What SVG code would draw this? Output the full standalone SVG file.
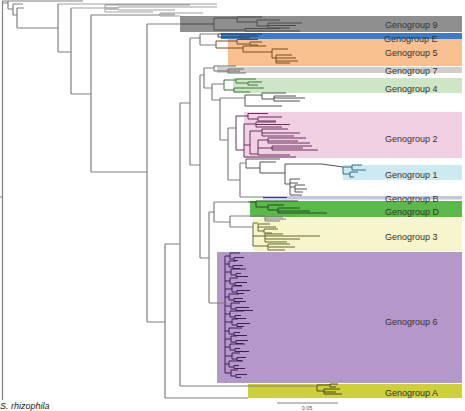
<svg xmlns="http://www.w3.org/2000/svg" width="465" height="411" viewBox="0 0 465 411">
<style>
.bb{fill:none;stroke:#808080;stroke-width:1.2}
.lg{fill:none;stroke:#a0a0a0;stroke-width:1.1}
.cl{fill:none;stroke-width:1}
.lab{font-family:"Liberation Sans",Arial,sans-serif;font-size:9px;fill:#333}
</style>
<rect width="465" height="411" fill="#fff"/>
<g id="G9"><rect x="180" y="16" width="282" height="16" fill="#8f8f8f"/>
<path class="cl" stroke="#4a4a4a" d="M181,24H214M214,18V30M214,18H237M237,17V22M237,17H262M237,22H257M257,20V26M257,20H280M257,26H268M268,23V28M268,23H302M268,25.5H296M268,28H290M214,30H245M245,28.5V31M245,28.5H280M245,31H300"/>
<text class="lab" x="385" y="28">Genogroup 9</text></g>
<g id="G5"><rect x="228" y="39" width="234" height="27" fill="#f8c08e"/>
<path class="cl" stroke="#7a4a1e" d="M216,41V48M216,41H237M237,39.5V44M237,39.5H258M237,44H250M250,42V45M250,42H262M250,45H258M216,48H243M243,46V52M243,46H266M243,52H272M272,49V58M272,49H288M272,58H276M276,55V63M276,55H292M276,58H296M276,61H298M276,63H290"/>
<text class="lab" x="385" y="56">Genogroup 5</text></g>
<g id="GE"><rect x="221" y="33" width="241" height="6" fill="#3a7cc8"/>
<path class="cl" stroke="#1f3f70" d="M218,34V37M218,34H262M218,37H240M240,36V38M240,36H258M240,38H250"/>
<text class="lab" x="384" y="42">Genogroup E</text></g>
<g id="G7"><rect x="217" y="67" width="245" height="6" fill="#d0d0d0"/>
<path class="cl" stroke="#6a6a6a" d="M214,66V71M214,66H236M214,71H228M228,69V73M228,69H244M228,71H240M228,73H246"/>
<text class="lab" x="385" y="74">Genogroup 7</text></g>
<g id="G4"><rect x="233" y="78" width="229" height="15" fill="#cde6c4"/>
<path class="cl" stroke="#3c7a3c" d="M224,80V90M224,80H236M236,79V83M236,79H256M236,83H248M248,82V85M248,82H262M248,85H258M224,90H234M234,88V92M234,88H264M234,92H250"/>
<text class="lab" x="385" y="92">Genogroup 4</text></g>
<g id="clade-x"><path class="cl" stroke="#555" d="M245,95V106M245,95H262M262,93V99M262,93H286M262,99H274M274,96V101M274,96H296M274,98H305M274,101H300M245,106H282"/></g>
<g id="G2"><rect x="244" y="112" width="218" height="46" fill="#f1d0e4"/>
<path class="cl" stroke="#6b2f5e" d="M236,116V150M236,116H248M248,113.5V119M248,113.5H268M248,119H258M258,117V121M258,117H282M258,121H276M236,150H244M244,124V157M244,124H256M256,122V127M256,122H276M256,124.5H290M256,127H282M244,145H250M250,131V154M250,131H262M262,129V136M262,129H288M262,133H300M262,136H294M250,154H258M258,140V155M258,140H268M268,138V143M268,138H306M268,141H298M268,143H310M258,148H272M272,146V150M272,146H312M272,148H303M272,150H318M258,155H290M244,157H296"/>
<text class="lab" x="385" y="142">Genogroup 2</text></g>
<g id="G1"><rect x="343" y="165" width="119" height="15" fill="#cde9f2"/>
<path class="cl" stroke="#555" d="M246,159V168M246,159H280M246,168H260M260,162V173M260,162H276M260,173H285M285,164V184M285,164H322L343,167M285,184H290M290,179V195M290,179H300M290,183H298M290,187H295M295,185V192M295,185H305M295,189H307M295,192H303M290,195H302"/>
<path class="cl" stroke="#2e6e80" d="M343,167V174M343,167H352M352,165V170M352,165H362M352,170H366M343,174H350M350,172V177M350,172H358M350,177H354"/>
<text class="lab" x="385" y="178">Genogroup 1</text></g>
<g id="GD"><rect x="250" y="201" width="212" height="16" fill="#5bb84a"/>
<path class="cl" stroke="#1f4f1f" d="M248,202H256M256,201V207M256,201H298M256,207H268M268,205V210M268,205H284M268,210H278M278,208V213M278,208H300M278,211H310M278,213H327"/>
<text class="lab" x="385" y="215">Genogroup D</text></g>
<g id="GB"><rect x="263" y="196" width="199" height="3.5" fill="#c8c4e6"/>
<path class="cl" stroke="#3a3a8a" stroke-width="1.5" d="M263,197.5H287"/>
<text class="lab" x="385" y="202">Genogroup B</text></g>
<g id="G3"><rect x="253" y="218" width="209" height="33" fill="#f7f5cc"/>
<path class="cl" stroke="#777" d="M253,216H265M265,217V221M265,217H283M265,219H286M265,221H280"/>
<path class="cl" stroke="#66662a" d="M253,223V246M253,223H258M258,224V231M258,224H270M258,227H276M258,231H264M264,229V233M264,229H278M264,233H272M253,236H265M265,234V242M265,234H283M265,236H320M265,239H300M265,242H287M253,246H268M268,244V250M268,244H290M268,247H295M268,250H285"/>
<text class="lab" x="385" y="240">Genogroup 3</text></g>
<g id="G6"><rect x="217" y="252" width="245" height="131" fill="#b597c9"/>
<path class="cl" stroke="#3e1f5a" d="M225,256V373
M225,256H230M230,253V259M230,253H240M230,259H234M234,257.5V260.5M234,257.5H244M234,260.5H238
M225,264H229M229,261V267M229,261H236M229,267H233M233,265.5V268.5M233,265.5H243M233,268.5H240
M225,272H231M231,269V275M231,269H246M231,275H236M236,273.5V276.5M236,273.5H241M236,276.5H248
M225,281H230M230,278V284M230,278H238M230,284H235M235,282.5V285.5M235,282.5H247M235,285.5H242
M225,289H232M232,286V292M232,286H242M232,292H237M237,290.5V293.5M237,290.5H250M237,293.5H244
M225,297H229M229,294V300M229,294H239M229,300H234M234,298.5V301.5M234,298.5H243M234,301.5H246
M225,306H231M231,303V309M231,303H240M231,309H236M236,307.5V310.5M236,307.5H249M236,310.5H253
M225,314H230M230,311V317M230,311H244M230,317H235M235,315.5V318.5M235,315.5H241M235,318.5H246
M225,322H232M232,319V325M232,319H238M232,325H237M237,323.5V326.5M237,323.5H250M237,326.5H244
M225,331H229M229,328V334M229,328H242M229,334H234M234,332.5V335.5M234,332.5H240M234,335.5H247
M225,339H231M231,336V342M231,336H237M231,342H236M236,340.5V343.5M236,340.5H248M236,343.5H243
M225,347H230M230,344V350M230,344H245M230,350H235M235,348.5V351.5M235,348.5H240M235,351.5H249
M225,356H232M232,353V359M232,353H240M232,359H237M237,357.5V360.5M237,357.5H246M237,360.5H242
M225,364H229M229,361V367M229,361H243M229,367H234M234,365.5V368.5M234,365.5H239M234,368.5H245
M225,373H231M231,370V376M231,370H238M231,376H236M236,374.5V377.5M236,374.5H247M236,377.5H241"/>
<text class="lab" x="385" y="325">Genogroup 6</text></g>
<g id="GA"><rect x="248" y="384" width="214" height="14" fill="#cdd03a"/>
<path class="cl" stroke="#4a4a10" d="M317,385V391M317,385H330M330,384V387M330,384H338M330,387H336M317,391H324M324,389V394M324,389H340M324,392H336M324,394H342"/>
<text class="lab" x="385" y="396">Genogroup A</text></g>
<g id="connectors">
<path class="lg" d="M58,4H217M71,8H105M105,5V12M105,5H190M105,8H118M118,7V10M118,7H217M118,10H175M105,12H153M160,13V16M160,13H203M160,16H180"/>
<path fill="none" stroke="#b0b0b0" stroke-width="2.5" d="M160,14.5H175M106,8.5H117"/>
<path class="bb" d="M2.5,1V400M0,197H2.5M2.5,1H83M2.5,3H8M8,1V9M8,1H22M8,9H13M13,4V15M13,4H23M13,15H17M17,8V28M17,8H24M17,28H58M58,4V52M58,52H71M71,8V94M71,94H91M91,15V172M91,15H160M91,172H147M147,24V322M147,24H181M147,322H165M165,244V398M165,244H180M165,398H248M180,103V386M180,103H190M180,386H317M190,38V165M190,38H200M190,165H200M200,34V45M200,34H218M200,45H216M200,75V258M200,75H204M200,258H209M204,68V88M204,68H214M204,88H212M212,84V100M212,84H224M212,100H220M220,98V140M220,98H245M220,140H228M228,128V180M228,128H236M228,180H240M240,163V197M240,163H246M240,197H263M209,212V303M209,212H214M209,303H225M214,202V222M214,202H248M214,222H230M230,216V227M230,216H253M230,227H253"/>
</g>
<g id="scale">
<path stroke="#808080" stroke-width="1" d="M277,403H338"/>
<text x="307" y="410" text-anchor="middle" font-family="Liberation Sans,Arial,sans-serif" font-size="5.5" fill="#555">0.05</text>
</g>
<text x="0" y="409" font-family="Liberation Sans,Arial,sans-serif" font-size="9" font-style="italic" fill="#222">S. rhizophila</text>
</svg>
